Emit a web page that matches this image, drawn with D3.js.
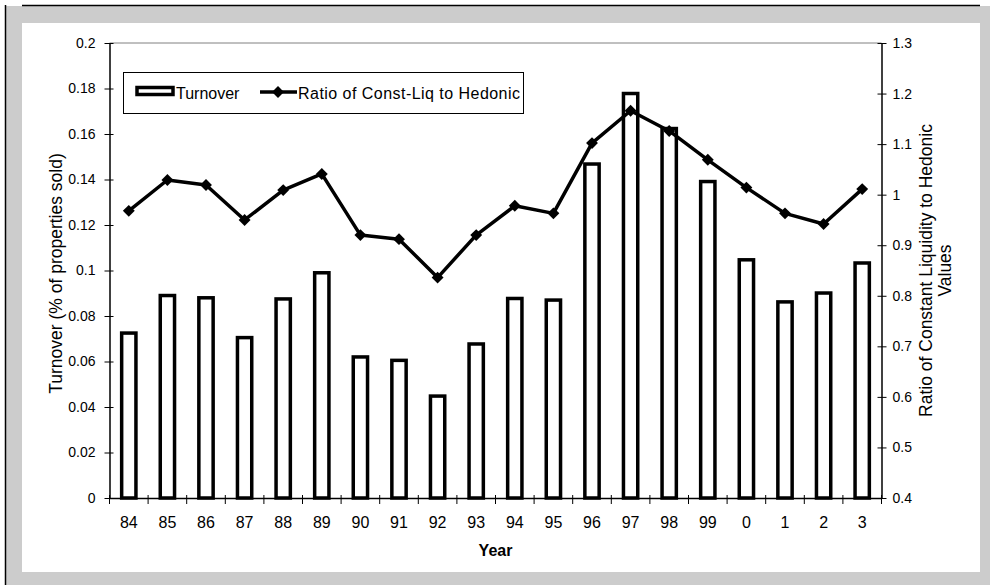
<!DOCTYPE html>
<html>
<head>
<meta charset="utf-8">
<script src="https://cdn.jsdelivr.net/npm/d3@7"></script>
<style>
  html, body { margin: 0; padding: 0; background: #ffffff; }
  svg { display: block; font-family: Arial, "Liberation Sans", sans-serif; }
</style>
</head>
<body>
<svg id="chart" width="990" height="585"></svg>
<script>
// Year labels along the horizontal axis
const years = ["84","85","86","87","88","89","90","91","92","93","94","95","96","97","98","99","0","1","2","3"];
// Turnover (% of properties sold), left axis
const turnover = [0.0725,0.089,0.088,0.0705,0.0875,0.099,0.062,0.0605,0.0448,0.0677,0.0877,0.087,0.1468,0.1778,0.1624,0.1391,0.1047,0.0862,0.0901,0.1033];
// Ratio of constant-liquidity to hedonic index values, right axis
const ratio = [0.968,1.029,1.019,0.950,1.009,1.041,0.920,0.912,0.836,0.920,0.978,0.963,1.102,1.166,1.126,1.069,1.014,0.963,0.942,1.011];
// Axis ticks
const leftTicks = [0,0.02,0.04,0.06,0.08,0.1,0.12,0.14,0.16,0.18,0.2];
const leftTickLabels = ["0","0.02","0.04","0.06","0.08","0.1","0.12","0.14","0.16","0.18","0.2"];
const rightTicks = [0.4,0.5,0.6,0.7,0.8,0.9,1.0,1.1,1.2,1.3];
const rightTickLabels = ["0.4","0.5","0.6","0.7","0.8","0.9","1","1.1","1.2","1.3"];

const svg = d3.select("#chart");

// Frame: grey border with a dark edge on the top and left
svg.append("rect").attr("x", 6).attr("y", 6).attr("width", 984).attr("height", 579).attr("fill", "#cccccc");
svg.append("rect").attr("x", 22).attr("y", 23).attr("width", 958).attr("height", 549).attr("fill", "#ffffff");
svg.append("line").attr("x1", 22).attr("x2", 980).attr("y1", 5.5).attr("y2", 5.5).attr("stroke", "#000").attr("stroke-width", 1.5);
svg.append("line").attr("x1", 5.5).attr("x2", 5.5).attr("y1", 5).attr("y2", 585).attr("stroke", "#000").attr("stroke-width", 1.5);

const plot = { left: 109.5, right: 881.5, top: 43, bottom: 498 };

const x = d3.scaleBand().domain(years).range([plot.left, plot.right]).paddingInner(0).paddingOuter(0);
const yL = d3.scaleLinear().domain([0, 0.2]).range([plot.bottom, plot.top]);
const yR = d3.scaleLinear().domain([0.4, 1.3]).range([plot.bottom, plot.top]);

// Plot area top border
svg.append("line").attr("x1", plot.left).attr("x2", plot.right)
  .attr("y1", plot.top).attr("y2", plot.top).attr("stroke", "#808080").attr("stroke-width", 1);

// Turnover bars
const barW = x.bandwidth() * 0.37;
svg.append("g").selectAll("rect").data(years).join("rect")
  .attr("x", (d) => x(d) + x.bandwidth() / 2 - barW / 2)
  .attr("y", (d, i) => yL(turnover[i]))
  .attr("width", barW)
  .attr("height", (d, i) => yL(0) - yL(turnover[i]))
  .attr("fill", "#ffffff")
  .attr("stroke", "#000")
  .attr("stroke-width", 3.5);

// Left axis
const axL = svg.append("g").attr("transform", `translate(${plot.left},0)`)
  .call(d3.axisLeft(yL).tickValues(leftTicks).tickFormat((d, i) => leftTickLabels[i]).tickSizeInner(5).tickSizeOuter(0).tickPadding(9));
axL.select(".domain").attr("stroke", "#000").attr("stroke-width", 1.5);
axL.selectAll(".tick line").attr("x1", 4).attr("x2", -5).attr("stroke", "#000");
axL.selectAll(".tick text").attr("font-size", 14).attr("fill", "#000").attr("font-family", "Arial, 'Liberation Sans', sans-serif");

// Right axis
const axR = svg.append("g").attr("transform", `translate(${plot.right},0)`)
  .call(d3.axisRight(yR).tickValues(rightTicks).tickFormat((d, i) => rightTickLabels[i]).tickSizeInner(5).tickSizeOuter(0).tickPadding(6));
axR.select(".domain").attr("stroke", "#000").attr("stroke-width", 1.5);
axR.selectAll(".tick line").attr("x1", -4).attr("x2", 5).attr("stroke", "#000");
axR.selectAll(".tick text").attr("font-size", 14).attr("fill", "#000").attr("font-family", "Arial, 'Liberation Sans', sans-serif");

// Bottom axis: labels centred in each band, ticks on band boundaries
const axB = svg.append("g").attr("transform", `translate(0,${plot.bottom})`)
  .call(d3.axisBottom(x).tickSize(0).tickPadding(19));
axB.select(".domain").attr("stroke", "#000").attr("stroke-width", 1.5);
axB.selectAll(".tick text").attr("font-size", 16).attr("fill", "#000").attr("font-family", "Arial, 'Liberation Sans', sans-serif");
const bounds = years.map((d) => x(d)).concat([x(years[years.length - 1]) + x.bandwidth()]);
svg.append("g").selectAll("line").data(bounds).join("line")
  .attr("x1", (d) => d).attr("x2", (d) => d)
  .attr("y1", plot.bottom - 3).attr("y2", plot.bottom + 6)
  .attr("stroke", "#000").attr("stroke-width", 1);

// Ratio line with diamond markers
const cx = (i) => x(years[i]) + x.bandwidth() / 2;
const line = d3.line().x((d, i) => cx(i)).y((d) => yR(d));
svg.append("path").datum(ratio).attr("d", line)
  .attr("fill", "none").attr("stroke", "#000").attr("stroke-width", 3.5).attr("stroke-linejoin", "round");
const diamond = d3.symbol().type(d3.symbolDiamond2).size(90);
svg.append("g").selectAll("path").data(ratio).join("path")
  .attr("d", diamond)
  .attr("transform", (d, i) => `translate(${cx(i)},${yR(d)})`)
  .attr("fill", "#000");

// Axis titles
svg.append("text").attr("transform", `translate(62,${(plot.top + plot.bottom) / 2 + 3}) rotate(-90)`)
  .attr("text-anchor", "middle").attr("font-size", 17.5).text("Turnover (% of properties sold)");
const rt = svg.append("text").attr("transform", `translate(932,${(plot.top + plot.bottom) / 2}) rotate(-90)`)
  .attr("text-anchor", "middle").attr("font-size", 17.5);
rt.append("tspan").attr("x", 0).attr("dy", 0).text("Ratio of Constant Liquidity to Hedonic");
rt.append("tspan").attr("x", 0).attr("dy", 19).text("Values");
svg.append("text").attr("x", (plot.left + plot.right) / 2).attr("y", 556)
  .attr("text-anchor", "middle").attr("font-size", 16).attr("font-weight", "bold").text("Year");

// Legend
const lg = svg.append("g");
lg.append("rect").attr("x", 123.5).attr("y", 72.5).attr("width", 400).attr("height", 41)
  .attr("fill", "#fff").attr("stroke", "#000").attr("stroke-width", 1);
lg.append("rect").attr("x", 137).attr("y", 87.5).attr("width", 36).attr("height", 7)
  .attr("fill", "#fff").attr("stroke", "#000").attr("stroke-width", 3.5);
lg.append("text").attr("x", 176).attr("y", 99).attr("font-size", 16).text("Turnover");
lg.append("line").attr("x1", 260).attr("x2", 297).attr("y1", 92).attr("y2", 92)
  .attr("stroke", "#000").attr("stroke-width", 3.5);
lg.append("path").attr("d", diamond).attr("transform", "translate(278,92)").attr("fill", "#000");
lg.append("text").attr("x", 298).attr("y", 99).attr("font-size", 16).attr("textLength", 222).text("Ratio of Const-Liq to Hedonic");
</script>
</body>
</html>
